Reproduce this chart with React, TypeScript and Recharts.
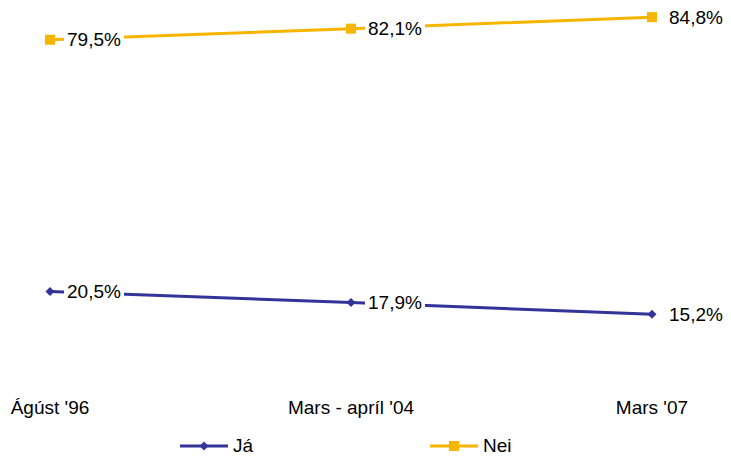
import { LineChart, Line, XAxis, YAxis, LabelList, Legend } from "recharts";

const periods = ["Ágúst '96", "Mars - apríl '04", "Mars '07"];
const jaValues = [20.5, 17.9, 15.2];
const neiValues = [79.5, 82.1, 84.8];

const FONT = '"Liberation Sans", Arial, sans-serif';
const BLUE = "#333399";
const ORANGE = "#F7B500";

const data = periods.map((p, i) => ({ period: p, ja: jaValues[i], nei: neiValues[i] }));

const fmt = (v: number) => v.toFixed(1).replace(".", ",") + "%";

function SquareDot(props: any) {
  const { cx, cy } = props;
  if (cx == null || cy == null) return null;
  return <rect x={cx - 5} y={cy - 5} width={10} height={10} fill={ORANGE} />;
}

function DiamondDot(props: any) {
  const { cx, cy } = props;
  if (cx == null || cy == null) return null;
  return (
    <polygon
      points={`${cx},${cy - 4.5} ${cx + 4.5},${cy} ${cx},${cy + 4.5} ${cx - 4.5},${cy}`}
      fill={BLUE}
    />
  );
}

function PointLabel(props: any) {
  const { x, y, value } = props;
  if (x == null || y == null) return null;
  return (
    <g>
      <rect x={x + 14} y={y - 12} width={60} height={24} fill="#fff" />
      <text
        x={x + 17}
        y={y}
        dy="0.35em"
        textAnchor="start"
        fontSize={19}
        fontFamily={FONT}
        fill="#000"
      >
        {fmt(value)}
      </text>
    </g>
  );
}

function PeriodTick(props: any) {
  const { x, y, payload } = props;
  return (
    <text
      x={x}
      y={y + 35}
      textAnchor="middle"
      fontSize={19}
      fontFamily={FONT}
      fill="#000"
    >
      {payload.value}
    </text>
  );
}

function LegendBox() {
  const items = [
    { name: "Já", color: BLUE, left: 180, shape: "diamond" },
    { name: "Nei", color: ORANGE, left: 430, shape: "square" },
  ];
  return (
    <div style={{ position: "relative", width: 731, height: 30 }}>
      {items.map((it) => (
        <div
          key={it.name}
          style={{
            position: "absolute",
            left: it.left,
            top: 0,
            height: 30,
            display: "flex",
            alignItems: "center",
          }}
        >
          <svg width={48} height={12}>
            <line x1={0} y1={6} x2={48} y2={6} stroke={it.color} strokeWidth={3} />
            {it.shape === "square" ? (
              <rect x={19} y={1} width={10} height={10} fill={it.color} />
            ) : (
              <polygon points="24,1.5 28.5,6 24,10.5 19.5,6" fill={it.color} />
            )}
          </svg>
          <span
            style={{
              marginLeft: 5,
              fontSize: 19,
              fontFamily: FONT,
              color: "#000",
              lineHeight: "30px",
            }}
          >
            {it.name}
          </span>
        </div>
      ))}
    </div>
  );
}

export default function App() {
  return (
    <div style={{ position: "absolute", left: 0, top: 0, width: 731, height: 461, background: "#fff" }}>
      <LineChart
        width={731}
        height={461}
        data={data}
        margin={{ top: 3.5, right: 79, bottom: 0, left: 50 }}
      >
        <XAxis
          dataKey="period"
          height={52}
          axisLine={false}
          tickLine={false}
          tickSize={0}
          tickMargin={0}
          interval={0}
          tick={<PeriodTick />}
        />
        <YAxis hide domain={[0, 88]} />
        <Legend
          verticalAlign="bottom"
          height={30}
          wrapperStyle={{ left: 0, width: 731, bottom: 0 }}
          content={() => <LegendBox />}
        />
        <Line
          dataKey="nei"
          name="Nei"
          type="linear"
          stroke={ORANGE}
          strokeWidth={3}
          dot={<SquareDot />}
          activeDot={false}
          isAnimationActive={false}
        >
          <LabelList dataKey="nei" content={<PointLabel />} />
        </Line>
        <Line
          dataKey="ja"
          name="Já"
          type="linear"
          stroke={BLUE}
          strokeWidth={3}
          dot={<DiamondDot />}
          activeDot={false}
          isAnimationActive={false}
        >
          <LabelList dataKey="ja" content={<PointLabel />} />
        </Line>
      </LineChart>
    </div>
  );
}
